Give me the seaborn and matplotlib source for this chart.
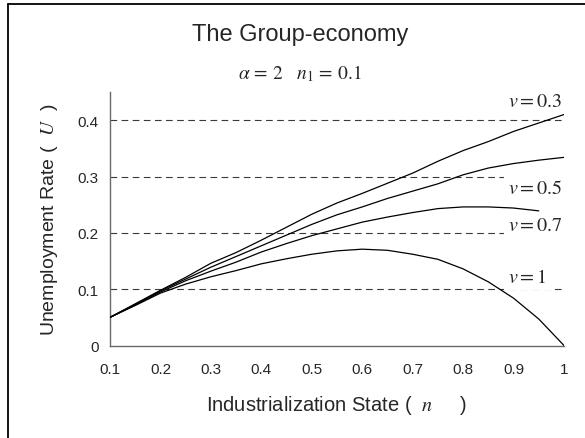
import numpy as np
import pandas as pd
import matplotlib
matplotlib.use("Agg")
import matplotlib.pyplot as plt
from matplotlib.lines import Line2D
import seaborn as sns

# ---- data ----
n_vals = [0.1, 0.15, 0.2, 0.25, 0.3, 0.35, 0.4, 0.45, 0.5, 0.55,
          0.6, 0.65, 0.7, 0.75, 0.8, 0.85, 0.9, 0.95, 1.0]
u_v03 = [0.050, 0.074, 0.098, 0.121, 0.146, 0.165, 0.187, 0.210, 0.233, 0.253,
         0.270, 0.288, 0.306, 0.327, 0.346, 0.362, 0.380, 0.395, 0.410]
u_v05 = [0.050, 0.073, 0.097, 0.118, 0.139, 0.158, 0.177, 0.196, 0.215, 0.232,
         0.246, 0.261, 0.274, 0.287, 0.303, 0.315, 0.323, 0.329, 0.334]
u_v07 = [0.050, 0.072, 0.095, 0.115, 0.132, 0.148, 0.166, 0.181, 0.195, 0.207,
         0.219, 0.228, 0.236, 0.243, 0.246, 0.246, 0.244, 0.239, np.nan]
u_v1 = [0.050, 0.071, 0.093, 0.109, 0.122, 0.133, 0.145, 0.154, 0.162, 0.168,
        0.171, 0.169, 0.162, 0.153, 0.136, 0.113, 0.084, 0.047, 0.000]

series_labels = [r'$v = 0.3$', r'$v = 0.5$', r'$v = 0.7$', r'$v = 1$']
label_pos_y = [0.4257, 0.271, 0.2044, 0.113]
label_pos_x = 0.889

x_ticks = [0.1, 0.2, 0.3, 0.4, 0.5, 0.6, 0.7, 0.8, 0.9, 1.0]
x_ticklabels = ['0.1', '0.2', '0.3', '0.4', '0.5', '0.6', '0.7', '0.8', '0.9', '1']
y_ticks = [0, 0.1, 0.2, 0.3, 0.4]
y_ticklabels = ['0', '0.1', '0.2', '0.3', '0.4']

title = 'The Group-economy'
subtitle = r'$\alpha\,=\,2\ \ \ n_1\,=\,0.1$'
xlabel = 'Industrialization State (  $n$     )'
ylabel = 'Unemployment Rate (  $U$  )'

# ---- style ----
sns.set_style('white')
plt.rcParams['font.family'] = ['Liberation Sans', 'DejaVu Sans']
plt.rcParams['mathtext.fontset'] = 'stix'

W, H = 585, 439
fig = plt.figure(figsize=(W / 100, H / 100), dpi=100)
ax = fig.add_axes([110 / W, 1 - 346.5 / H, (564 - 110) / W, (346.5 - 93) / H])

for vals in [u_v03, u_v05, u_v07, u_v1]:
    df = pd.DataFrame({'n': n_vals, 'U': vals}).dropna()
    sns.lineplot(data=df, x='n', y='U', ax=ax, color='black', linewidth=0.9,
                 zorder=3, legend=False)

ax.set_xlim(0.1, 1.0)
ax.set_ylim(0, 0.45)
ax.set_xticks(x_ticks)
ax.set_xticklabels(x_ticklabels, fontsize=11)
ax.set_yticks(y_ticks)
ax.set_yticklabels(y_ticklabels, fontsize=11)

for yv in y_ticks[1:]:
    ax.axhline(yv, color='#3a3a3a', linewidth=0.8, linestyle=(0, (6, 4)), zorder=1)

for sp in ['top', 'right']:
    ax.spines[sp].set_visible(False)
for sp in ['left', 'bottom']:
    ax.spines[sp].set_color('#6a6a6a')
    ax.spines[sp].set_linewidth(1.0)

ax.tick_params(axis='x', direction='out', length=4, width=1.0, color='#6a6a6a', pad=8)
ax.tick_params(axis='y', direction='inout', length=8, width=1.0, color='#6a6a6a', pad=4)

ax.set_xlabel(xlabel, fontsize=14.5, labelpad=12)
ax.set_ylabel(ylabel, fontsize=14, labelpad=13)

for lab, yy in zip(series_labels, label_pos_y):
    ax.text(label_pos_x, yy, lab, fontsize=14.5, ha='left', va='baseline', zorder=2,
            bbox=dict(facecolor='white', edgecolor='none', pad=3))

fig.text(300 / W, 1 - 41 / H, title, fontsize=17, ha='center', va='baseline')
fig.text(300 / W, 1 - 79 / H, subtitle, fontsize=14, ha='center', va='baseline')

# outer frame lines (top and left visible in reference)
fig.add_artist(Line2D([7.5 / W, 1], [1 - 4.5 / H, 1 - 4.5 / H],
                      transform=fig.transFigure, color='black', linewidth=1.3))
fig.add_artist(Line2D([7.5 / W, 7.5 / W], [0, 1 - 4.5 / H],
                      transform=fig.transFigure, color='black', linewidth=1.3))

fig.savefig('out.png', dpi=100)
